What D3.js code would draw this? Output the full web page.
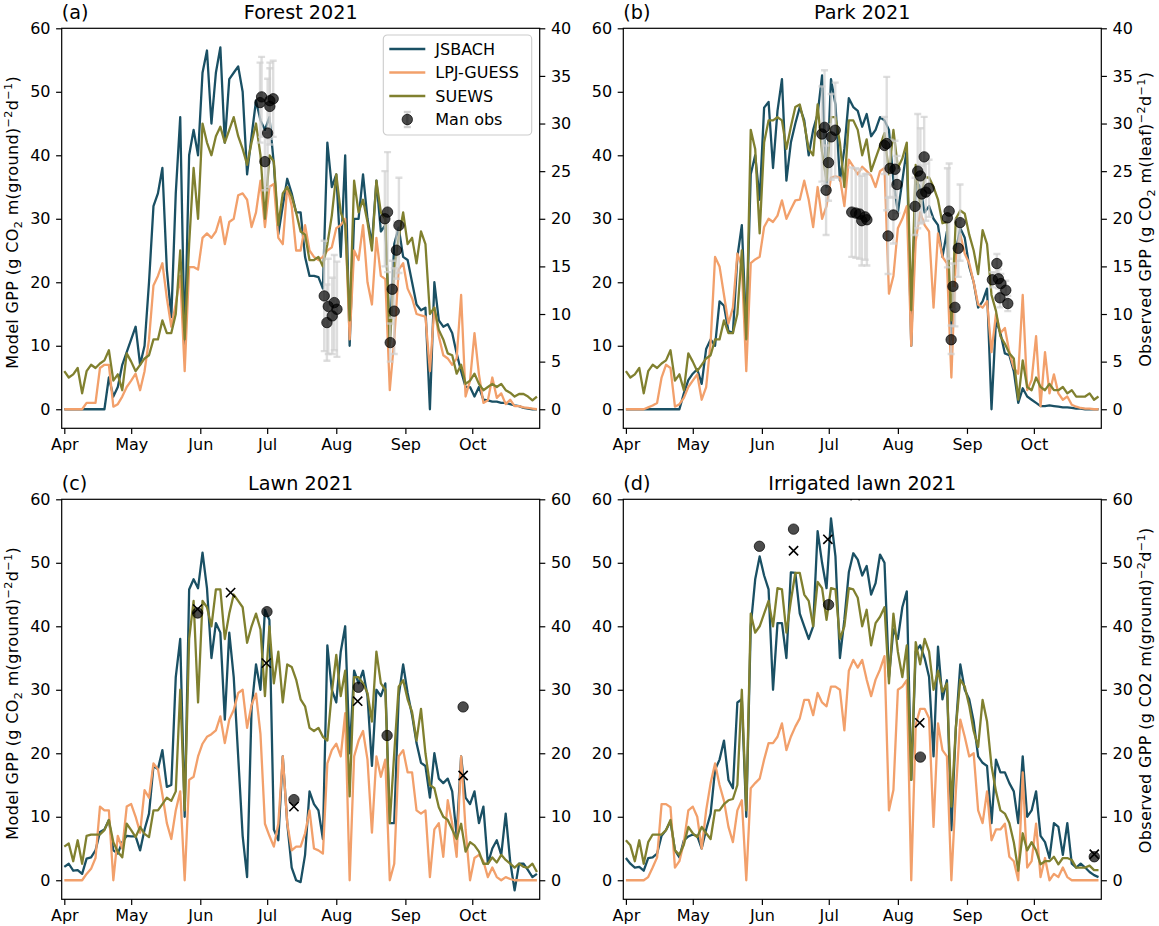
<!DOCTYPE html>
<html lang="en">
<head>
<meta charset="utf-8">
<title>Model and observed GPP 2021</title>
<script src="https://cdnjs.cloudflare.com/ajax/libs/d3/7.8.5/d3.min.js"></script>
<style>
  body { margin: 0; background: #fff; }
  svg text { font-family: "DejaVu Sans", sans-serif; fill: #000; }
</style>
</head>
<body>
<svg id="chart" width="1159" height="926"></svg>
<script>
// model output, read every 2nd day starting 1 April 2021
const startDate = new Date(Date.UTC(2021, 3, 1));
const dayStep = 2;
const monthLabels = ["Apr", "May", "Jun", "Jul", "Aug", "Sep", "Oct"];
const modelTicks = [0, 10, 20, 30, 40, 50, 60];
const leafTicks = [0, 5, 10, 15, 20, 25, 30, 35, 40];
const seriesNames = ["JSBACH", "LPJ-GUESS", "SUEWS"];
const seriesColors = ["#1a5064", "#f2a06b", "#80802f"];

const forestJsbach = [0,0,0,0,0,0,0,0,0,0,
  5,2,3.5,7,9,11,13,7,10,20,
  32,34,38,22,14.5,34,46,10,40,44,
  40,53,56.5,45,53,57,42,52,53,54,
  50,37,43,48.6,45.5,44,46,38.6,27.6,32,
  36.3,34,31,31,24,21,21,20.8,19,42,
  35,37,24,40,10,30,30,37,30,26,
  36,28,29,11,26,28.6,24,23.5,20,16.5,
  15.6,16,0,20,14,13,13.4,12,8.8,6,
  3.5,3.5,2,3.5,1.5,1.4,1.2,1.2,1,1,
  0.8,0.6,0.5,0.2,0.1,0,0];
const forestLpj = [0,0,0,0,0,1,1,1,6.5,7,
  7,0.4,0.8,2,3.5,4.5,5.6,3,6,11,
  19.5,21,23,17.5,13,16.6,21,6,22.4,22.4,
  22,27,27.7,27,28,30.3,26,29.5,30,33.7,
  34,33,28.7,31,36,28.7,35,35.5,27,26,
  35,32,25,25,29,25,24,23.5,24,25,
  25.5,28.5,29,30,11,25,23.5,29,20,16.5,
  27,21,20.5,3,11,22,23,19,17.5,15,
  14.8,14.6,6,16,11.5,8.5,8,7,8,18,
  2,4.5,12,5.5,1,1.4,5,1.8,2.5,0.8,
  1.5,0.5,0.5,0.3,0.2,0.1,0];
const forestSuews = [6,5,5.5,6.5,2.5,6,7,6.5,7.2,7.7,
  9.3,4.5,5.5,3,8.8,7.5,6,7,8,8.5,
  11,11,14,12,12,15,25,11,26,38,
  30,45,42,40,43,44.5,42,44,46,43,
  41,38.5,42,45,40,30,40,39,29,34,
  35,33.5,31,28,27.5,23.5,23.5,24,22.5,26,
  30.5,37,31,29,14,36,31,33,29.5,25,
  36,31,30,10,22,27,31,26,27,23,
  28,26,15,16,12.5,11,8.8,8.5,5.6,7,
  4,4.5,5.6,4,3,3.5,4,3.5,4,3,
  2.6,2,2.4,2.4,2,1.4,2];

const parkJsbach = [0,0,0,0,0,0,0,0,0,0,
  0,0,0,2.5,4.6,5.6,6.3,4,9.5,11,
  10,17,16.3,12.3,12,24,29,12,37,40,
  33,47.5,48.4,38,47,52,36,42,45,47.6,
  45.5,40,44,46.5,52.6,35,52,48,36,41,
  49,47.6,47,44.5,46.5,43,44,46,45.5,44,
  36,31,36,41,10,36,35,31,32,30,
  29,24,28,11,25,28.5,27,22.5,20,16,
  17,19,0,14,12,8.8,8.5,6,1,3.3,
  2,1.5,1,0.5,0.5,0.6,0.5,0.4,0.3,0.3,
  0.2,0.1,0.1,0,0,0,0];
const parkLpj = [0,0,0,0,0,0.3,0.6,1,5,7,
  6.5,0.4,0.8,1.8,3.5,4.5,5.5,1.5,3.5,10.5,
  24,22.5,18,13.5,16,24.5,22.5,6,23,23.6,
  24,28.7,30,29.5,30.5,32.9,30,31.5,32.9,33,
  36,33,28.7,35,30,32,36.5,36.7,36.5,32,
  39.3,38.2,37,38.2,37.5,36.8,35,37.5,38,18.2,
  21,28.5,30,32,10,26.5,31,29,28,16,
  27.7,24,23,5,24,27.5,24.5,23,20,16.5,
  16,17,9,15,12,12.8,9,6.5,5.6,18,
  3,4.6,11.5,0.5,9,2.5,5.5,2.5,1.5,2,
  0.7,0.4,0.2,0.1,0.1,0,0];
const parkSuews = [6,5,5.5,6.5,2.5,6,7,6.5,7.2,7.7,
  9.3,4.5,5.5,3,8.8,7.5,6,7,8,8.5,
  11,11,14,12,12,15,25,11,44,41,
  27.7,42,45.5,45.5,46,45.5,41,44.5,47.6,48,
  45,41,40,48,40.5,36,46,46,42,35,
  45.5,45.5,44,40,42.5,37.5,39.5,41.5,43.5,37,
  44,38,39.5,42,15.6,38.5,32,36.5,36.5,35,
  33,29.3,29.5,14,30,31.3,30.8,27.5,25,21.3,
  28.2,26,18,15.5,11.5,10.3,8.8,8,1.5,7.7,
  3.5,3,5,3.5,3,4,3,3,3.5,2.5,
  3,2,2,2,2.5,1.5,2];

const lawnJsbach = [2.1,2.6,1.5,1.6,1,3.4,3.6,4.7,7.6,8,
  9.5,4.7,4.2,6,7,6.9,6.9,4.7,8,10.5,
  18,17.5,20.5,14.7,15,32,38,10,45.8,47.4,
  46,51.6,46,35,40.5,39,25.3,39,32,19.5,
  7,0.5,27,34,30,42.6,41,8,6.3,19.5,
  9,2,0,-0.3,4,14,12,11,6.5,37,
  30,28,36,40,20,33,31,33,29,18,
  30,29,31,9,9,29,34,29.5,26,21.6,
  18.5,18,13,20,16,15.3,16,14,7,19.5,
  13,12,14,9,11.6,2.6,5,6.3,4,10.5,
  3,-1.6,2.6,2.6,1.6,0.5,1];
const lawnLpj = [0,0,0,0,0,1,1.8,3.5,11.6,11,
  11,0,7,5,11.6,12,10,7.5,14.2,13,
  18.4,17.5,13.5,9,6.5,11,14,0,15.8,16.3,
  19.5,21.5,22.6,23,23.6,25.8,21.6,25.3,26.8,29.5,
  30,24,27.6,29.4,23,8.9,7,5.3,8.9,19.5,
  9,4.7,5.3,5.3,7.4,11,5,4.7,4.2,18.4,
  20.5,21.5,19.5,26.3,0,19.5,22,23.5,19,7.5,
  19.5,16.3,19,0,2.6,19.5,20.5,17,17,11,
  10.5,11,0.5,8,9,3.7,12.6,8.9,3.7,19.5,
  8,0,3.5,4,3,0.5,2,0.5,0,0.5,
  0.2,0,0,0,0,0,0];
const lawnSuews = [5.3,5.8,3,6.3,2.6,7,7.2,7.2,7.2,7.9,
  9.5,6,4.5,3.6,8.9,7.9,6.8,8.4,7.3,6.8,
  11,11,12,13,12.5,14,30,11,38,44,
  28,44,43,40,45.8,45.8,38,42,45,44,
  43,37.4,40,42,39.5,29,40,31,36,28,
  34,33.6,31.6,28.5,27.4,24,23.5,24,22.6,22,
  29.5,35.5,29,33,13.2,32,32,31,29.5,25,
  36,31,30,9,20,30.5,31.5,28.5,26.5,22,
  27,20,15,14.5,11.5,10,9.5,8,6.5,8.9,
  4.5,6,5.5,4.5,2.6,2.6,3.6,2.8,4,3.2,
  2.6,2,2.6,2.1,2,2.6,1.3];

const irrigJsbach = [3.5,2.6,2,2.1,1.5,3.5,3.6,4.2,7,7.9,
  9.3,4.7,3.6,6.3,6.9,7.2,7,5,8,10.5,
  17.4,19,22,15.8,14.5,28,28.5,10,40,47.4,
  51,48,45.8,30,40.5,40.5,35,48.5,48.4,42,
  40,38,40,55,50,46,57,51,35,41,
  48.5,51.5,50.5,48,49.5,45,46.8,51.3,50,32,
  39.5,38,43,45.5,15.8,36,37,35,32,19.5,
  36.8,28.5,31.5,7.9,24,34,30,28.5,25,19.5,
  18.5,18,9,19,17,17,15.3,14,9,19.5,
  10,11,14,7,6,3.5,9,8.4,4,9,
  2.6,2,2.6,2,1.3,0.8,0.5];
const irrigLpj = [0,0,0,0,0,0.5,2,3.6,12,12,
  11.5,2,3,6,11,11.6,10,5,11,15.3,
  18.4,15,12.5,8.4,6,11,12.6,0,14.5,15.3,
  16,19,21.6,21.6,22.6,24.7,20.5,22.6,24.2,25.5,
  28.4,28.4,26,29.5,28,27.4,30.5,30.5,30,23.6,
  33,34.7,33.5,34.7,31.6,29,31.6,33.2,35.3,11,
  14.2,30,30.5,31.5,0,24.5,27,27,25.5,8.4,
  24.7,20.5,19.5,0,14,25.3,22.6,19.5,20,11,
  9,14,6.3,8,8,8.9,3.7,3,0,17,
  2,3,8.9,0.5,3.5,0,1,0.5,2,0.5,
  0,0,0,0,0,0,0];
const irrigSuews = [6.3,5.5,3,6.3,2.6,6,7.2,7.2,7.2,7.9,
  9.5,4.7,4,5.6,8.4,7.4,6.8,8.4,7.4,6.5,
  11,11,12,12.6,12.8,15,30,11,42,39,
  40,42,44,40,46,45.8,39,44,48.4,48.4,
  45,44,40,47,46,41,46,45.8,38,40,
  46,45.8,44.5,40,42.6,37,40.5,41.5,43,31,
  42,36,32,37,15.8,37.5,34,38,36,30,
  33,29.7,31,11.6,24,31.6,30.5,27.5,23.5,21,
  28.4,25,18,14,11,10.5,9,6,1.5,7.4,
  4.7,6,4.7,2.5,3,3,3.7,2.5,3.5,3.5,
  3.2,2,2,2,2.3,1.6,1.6];

// manual observations: days after 1 April, value, standard deviation
const forestObsDay = [87.8,88.5,92.2,93.7,92.2,91.2,90.0, 116.6,118.4,121.1,122.3,120.2,117.8, 143.8,145.0,150.1,149.0,147.1,148.0,146.2];
const forestObsGpp = [32.2,32.8,32.4,32.6,31.8,29.0,26.0, 11.9,10.8,11.2,10.5,9.8,9.1, 20.0,20.7,19.3,16.7,12.6,10.3,7.0];
const forestObsErr = [4.2,4.2,4.0,4.0,4.0,5.7,3.0, 5.8,5.0,5.0,5.0,4.0,4.0, 5.0,6.3,5.0,3.0,3.0,4.5,2.0];

const parkObsDay = [87.9,89.1,92.1,93.9,90.9,89.8, 101.3,103.1,104.8,105.8,107.3,108.1,
  116.0,117.0,118.5,120.7,121.6,120.0,117.6, 129.7,130.9,132.1,133.8,132.7,134.5,136.0,
  144.2,145.0,149.9,149.1,146.7,147.6,145.9, 164.4,166.4,167.1,168.2,170.4,167.8,171.3];
const parkObsGpp = [28.9,29.6,28.6,29.3,25.9,23.0, 20.7,20.6,20.5,19.8,20.2,19.9,
  27.7,27.9,25.3,25.2,23.6,20.4,18.2, 21.3,25.0,24.5,26.5,22.6,22.8,23.2,
  20.1,20.8,19.6,16.9,12.9,10.7,7.3, 13.6,15.3,13.7,13.2,12.5,11.7,11.1];
const parkObsErr = [5,6,4.5,5,4,4.7, 4.7,4.7,4.7,4.7,4.5,4.8,
  3,7,3,3,3,3,4, 3,6,5,4.2,3,3,3,
  5.2,5,4,3,2.4,2,1.5, 0.8,1,1,1,1,1,0.8];

const lawnObsDay = [59.8, 90.9, 103.0, 131.9, 144.8, 178.9];
const lawnObsGpp = [42.1, 42.3, 12.7, 30.4, 22.8, 27.3];
const lawnCrossDay = [59.8, 74.6, 90.6, 103.0, 131.6, 178.9];
const lawnCrossGpp = [42.7, 45.3, 34.2, 11.6, 28.2, 16.5];

const irrigObsDay = [59.9, 75.2, 90.9, 132.1, 210.1];
const irrigObsGpp = [52.6, 55.3, 43.4, 19.4, 3.7];
const irrigCrossDay = [75.2, 90.6, 102.8, 131.8, 210.1];
const irrigCrossGpp = [51.9, 53.7, 60.6, 24.8, 4.1];

const W = 478, H = 400;
const svg = d3.select("#chart");

const dayToDate = d => new Date(startDate.getTime() + d * 864e5);
const seriesDates = d3.range(forestJsbach.length).map(i => d3.utcDay.offset(startDate, i * dayStep));
const monthDates = monthLabels.map((m, i) => d3.utcMonth.offset(startDate, i));

const x = d3.scaleUtc()
  .domain([new Date(Date.UTC(2021, 2, 30, 20)), new Date(Date.UTC(2021, 9, 31, 6))])
  .range([0, W]);

const modelLabel = [["Model GPP (g CO"], ["2", "sub"], [" m(ground)"], ["\u22122", "sup"], ["d"], ["\u22121", "sup"], [")"]];
const leafLabel = [["Observed GPP (g CO"], ["2", "sub"], [" m(leaf)"], ["\u22122", "sup"], ["d"], ["\u22121", "sup"], [")"]];
const groundLabel = [["Observed GPP (g CO2 m(ground)"], ["\u22122", "sup"], ["d"], ["\u22121", "sup"], [")"]];

const panels = [
  { key: "a", tag: "(a)", title: "Forest 2021", left: 61.7, top: 28.3,
    series: [forestJsbach, forestLpj, forestSuews],
    obsDay: forestObsDay, obsGpp: forestObsGpp, obsErr: forestObsErr, crossDay: [], crossGpp: [],
    rightTicks: leafTicks, rightMax: 40, leftLabel: modelLabel, rightLabel: null, legend: true },
  { key: "b", tag: "(b)", title: "Park 2021", left: 623.3, top: 28.3,
    series: [parkJsbach, parkLpj, parkSuews],
    obsDay: parkObsDay, obsGpp: parkObsGpp, obsErr: parkObsErr, crossDay: [], crossGpp: [],
    rightTicks: leafTicks, rightMax: 40, leftLabel: null, rightLabel: leafLabel, legend: false },
  { key: "c", tag: "(c)", title: "Lawn 2021", left: 61.7, top: 499.3,
    series: [lawnJsbach, lawnLpj, lawnSuews],
    obsDay: lawnObsDay, obsGpp: lawnObsGpp, obsErr: null, crossDay: lawnCrossDay, crossGpp: lawnCrossGpp,
    rightTicks: modelTicks, rightMax: 60, leftLabel: modelLabel, rightLabel: null, legend: false },
  { key: "d", tag: "(d)", title: "Irrigated lawn 2021", left: 623.3, top: 499.3,
    series: [irrigJsbach, irrigLpj, irrigSuews],
    obsDay: irrigObsDay, obsGpp: irrigObsGpp, obsErr: null, crossDay: irrigCrossDay, crossGpp: irrigCrossGpp,
    rightTicks: modelTicks, rightMax: 60, leftLabel: null, rightLabel: groundLabel, legend: false }
];

// text with sub/superscripts built from tspans
function unitLabel(sel, pieces) {
  const t = sel.append("text").attr("text-anchor", "middle").attr("font-size", 16)
    .attr("letter-spacing", 0.35);
  let shift = 0;
  pieces.forEach(([str, kind]) => {
    const target = kind === "sub" ? 4 : kind === "sup" ? -6 : 0;
    t.append("tspan").attr("dy", target - shift).attr("font-size", kind ? 11.2 : 16).text(str);
    shift = target;
  });
  return t;
}

function styleAxis(g) {
  g.select(".domain").remove();
  g.selectAll(".tick line").attr("stroke", "#000").attr("stroke-width", 1.2);
  g.selectAll(".tick text").attr("font-size", 16).attr("fill", "#000")
    .attr("font-family", "DejaVu Sans, sans-serif");
}

function errBar(g, cx, y1, y2) {
  g.append("line").attr("x1", cx).attr("x2", cx).attr("y1", y1).attr("y2", y2);
  g.append("line").attr("x1", cx - 3.5).attr("x2", cx + 3.5).attr("y1", y1).attr("y2", y1);
  g.append("line").attr("x1", cx - 3.5).attr("x2", cx + 3.5).attr("y1", y2).attr("y2", y2);
}

function drawPanel(p) {
  const g = svg.append("g").attr("transform", `translate(${p.left},${p.top})`);
  const y = d3.scaleLinear().domain([-3, 60]).range([H, 0]);
  const yR = d3.scaleLinear().domain([-p.rightMax / 20, p.rightMax]).range([H, 0]);

  g.append("clipPath").attr("id", "clip" + p.key)
    .append("rect").attr("width", W).attr("height", H);
  const plot = g.append("g").attr("clip-path", `url(#clip${p.key})`);

  const line = d3.line().x((v, i) => x(seriesDates[i])).y(v => y(v));
  p.series.forEach((s, k) => {
    plot.append("path").attr("d", line(s))
      .attr("fill", "none").attr("stroke", seriesColors[k])
      .attr("stroke-width", 2.3).attr("stroke-linejoin", "round");
  });

  if (p.obsErr) {
    const eb = plot.append("g").attr("stroke", "#d0d0d0").attr("stroke-opacity", 0.7).attr("stroke-width", 2.4);
    p.obsDay.forEach((d, i) => {
      errBar(eb, x(dayToDate(d)), yR(p.obsGpp[i] + p.obsErr[i]), yR(p.obsGpp[i] - p.obsErr[i]));
    });
  }
  plot.append("g").selectAll("circle").data(p.obsDay).join("circle")
    .attr("cx", d => x(dayToDate(d)))
    .attr("cy", (d, i) => yR(p.obsGpp[i]))
    .attr("r", 5.2)
    .attr("fill", "#000").attr("fill-opacity", 0.7)
    .attr("stroke", "#000").attr("stroke-opacity", 0.7).attr("stroke-width", 1);
  plot.append("g").selectAll("path").data(p.crossDay).join("path")
    .attr("d", (d, i) => {
      const cx = x(dayToDate(d)), cy = yR(p.crossGpp[i]), s = 4.6;
      return `M${cx - s},${cy - s}L${cx + s},${cy + s}M${cx - s},${cy + s}L${cx + s},${cy - s}`;
    })
    .attr("stroke", "#000").attr("stroke-width", 1.6).attr("fill", "none");

  // axes
  g.append("g").attr("transform", `translate(0,${H})`)
    .call(d3.axisBottom(x).tickValues(monthDates).tickFormat((d, i) => monthLabels[i])
      .tickSize(5.6).tickPadding(4.5).tickSizeOuter(0))
    .call(styleAxis);
  g.append("g")
    .call(d3.axisLeft(y).tickValues(modelTicks).tickSize(5.6).tickPadding(5.6).tickSizeOuter(0))
    .call(styleAxis);
  g.append("g").attr("transform", `translate(${W},0)`)
    .call(d3.axisRight(yR).tickValues(p.rightTicks).tickSize(5.6).tickPadding(5.6).tickSizeOuter(0))
    .call(styleAxis);

  g.append("rect").attr("width", W).attr("height", H)
    .attr("fill", "none").attr("stroke", "#000").attr("stroke-width", 1.2);

  // titles
  g.append("text").attr("x", 0).attr("y", -9.6).attr("font-size", 19.2).text(p.tag);
  g.append("text").attr("x", W / 2).attr("y", -9.6).attr("text-anchor", "middle")
    .attr("font-size", 19.2).text(p.title);

  if (p.leftLabel) {
    unitLabel(g.append("g").attr("transform", `translate(${17.5 - p.left},${H / 2 - 6}) rotate(-90)`), p.leftLabel);
  }
  if (p.rightLabel) {
    unitLabel(g.append("g").attr("transform", `translate(${1151 - p.left},${H / 2 - 9}) rotate(-90)`), p.rightLabel);
  }

  if (p.legend) drawLegend(g);
}

function drawLegend(g) {
  const lx = 321.6, ly = 6.7;
  const lg = g.append("g").attr("transform", `translate(${lx},${ly})`);
  lg.append("rect").attr("width", 148.4).attr("height", 100).attr("rx", 4)
    .attr("fill", "#fff").attr("fill-opacity", 0.8)
    .attr("stroke", "#cccccc").attr("stroke-width", 1.1);
  const rowY = [14, 37.5, 61, 84.5];
  seriesNames.forEach((name, k) => {
    lg.append("line").attr("x1", 6).attr("x2", 42).attr("y1", rowY[k]).attr("y2", rowY[k])
      .attr("stroke", seriesColors[k]).attr("stroke-width", 2.3);
    lg.append("text").attr("x", 52).attr("y", rowY[k]).attr("dy", "0.35em")
      .attr("font-size", 16).text(name);
  });
  const eb = lg.append("g").attr("stroke", "#d0d0d0").attr("stroke-width", 2.4);
  errBar(eb, 24, rowY[3] - 7.5, rowY[3] + 7.5);
  lg.append("circle").attr("cx", 24).attr("cy", rowY[3]).attr("r", 5.2)
    .attr("fill", "#000").attr("fill-opacity", 0.7)
    .attr("stroke", "#000").attr("stroke-opacity", 0.7);
  lg.append("text").attr("x", 52).attr("y", rowY[3]).attr("dy", "0.35em")
    .attr("font-size", 16).text("Man obs");
}

panels.forEach(drawPanel);
</script>
</body>
</html>
